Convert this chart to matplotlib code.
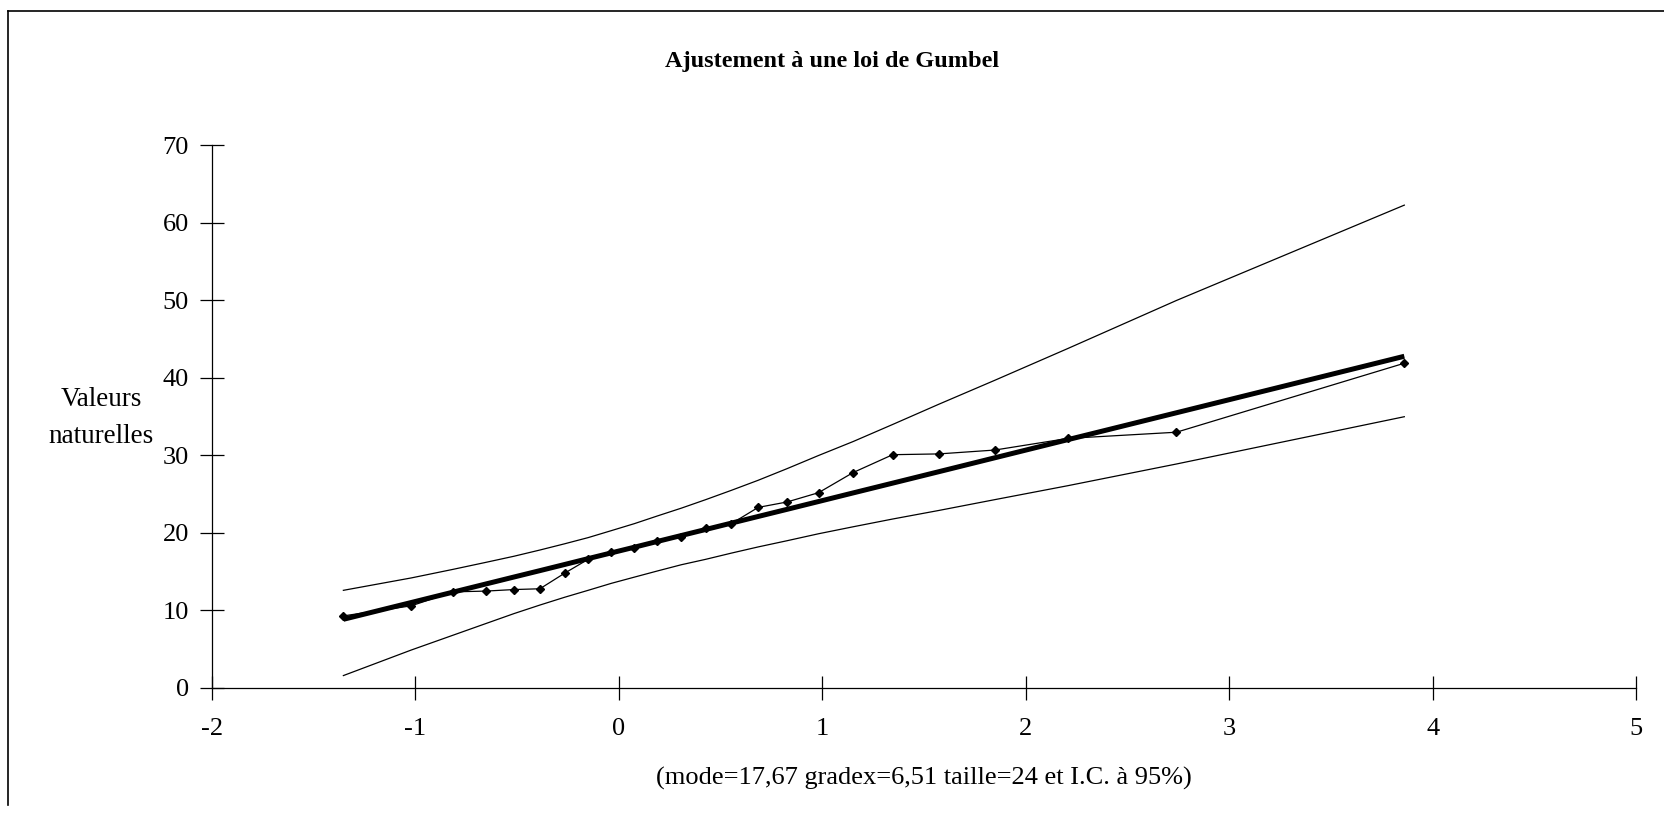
import matplotlib.pyplot as plt
from matplotlib.lines import Line2D

plt.rcParams['font.family'] = ['Liberation Serif', 'DejaVu Serif']

# reduced Gumbel variate of each ranked observation
u = [-1.354, -1.020, -0.816, -0.655, -0.515, -0.388, -0.267, -0.151,
     -0.037, 0.076, 0.190, 0.307, 0.427, 0.553, 0.685, 0.827,
     0.982, 1.152, 1.346, 1.572, 1.848, 2.207, 2.741, 3.861]
# observed values
obs = [9.3, 10.6, 12.4, 12.5, 12.7, 12.8, 14.8, 16.6,
       17.5, 18.1, 19.0, 19.5, 20.6, 21.2, 23.3, 24.0,
       25.2, 27.8, 30.1, 30.2, 30.7, 32.2, 33.0, 41.9]
# fitted Gumbel line
fit = [8.86, 11.03, 12.36, 13.41, 14.32, 15.14, 15.93, 16.69,
       17.43, 18.16, 18.91, 19.67, 20.45, 21.27, 22.13, 23.05,
       24.06, 25.17, 26.43, 27.90, 29.70, 32.04, 35.51, 42.80]
# 95% confidence band
upper = [12.6, 14.2, 15.3, 16.2, 17.0, 17.8, 18.6, 19.4,
         20.3, 21.2, 22.2, 23.2, 24.3, 25.5, 26.8, 28.3,
         30.0, 31.8, 34.0, 36.6, 39.7, 43.8, 50.0, 62.3]
lower = [1.6, 4.9, 6.8, 8.3, 9.6, 10.7, 11.7, 12.6,
         13.5, 14.3, 15.1, 15.9, 16.6, 17.4, 18.2, 19.0,
         19.9, 20.8, 21.8, 22.9, 24.3, 26.1, 28.9, 35.0]

xticks = [-2, -1, 0, 1, 2, 3, 4, 5]
yticks = [0, 10, 20, 30, 40, 50, 60, 70]

fig = plt.figure(figsize=(16.65, 8.26), dpi=100)
ax = fig.add_axes([0.1273, 0.1671, 0.8553, 0.6568])

ax.plot(u, upper, color='black', lw=0.9)
ax.plot(u, lower, color='black', lw=0.9)
ax.plot(u, fit, color='black', lw=3.6, solid_capstyle='butt')
ax.plot(u, obs, color='black', lw=0.9, marker='D', markersize=4.5)

ax.set_xlim(-2, 5)
ax.set_ylim(0, 70)
ax.set_xticks(xticks)
ax.set_yticks(yticks)
ax.set_xticklabels([str(t) for t in xticks], fontsize=19)
ax.set_yticklabels([str(t) for t in yticks], fontsize=19)
ax.tick_params(axis='both', direction='inout', length=17, width=0.9)
ax.tick_params(axis='x', pad=13)
ax.tick_params(axis='y', pad=8)
for s in ['top', 'right']:
    ax.spines[s].set_visible(False)
ax.spines['left'].set_linewidth(0.9)
ax.spines['bottom'].set_linewidth(0.9)

fig.text(0.500, 0.925, 'Ajustement à une loi de Gumbel', ha='center', va='center',
         fontsize=17.5, fontweight='bold')
fig.text(0.0607, 0.494, 'Valeurs\nnaturelles', ha='center', va='center',
         fontsize=19.5, linespacing=1.6)
fig.text(0.555, 0.058, '(mode=17,67 gradex=6,51 taille=24 et I.C. à 95%)',
         ha='center', va='center', fontsize=19)

# frame of the page
fig.add_artist(Line2D([0.005, 0.005], [0.025, 0.987], color='black', lw=1.2))
fig.add_artist(Line2D([0.005, 1.0], [0.987, 0.987], color='black', lw=1.2))

fig.savefig('out.png', dpi=100, facecolor='white')
